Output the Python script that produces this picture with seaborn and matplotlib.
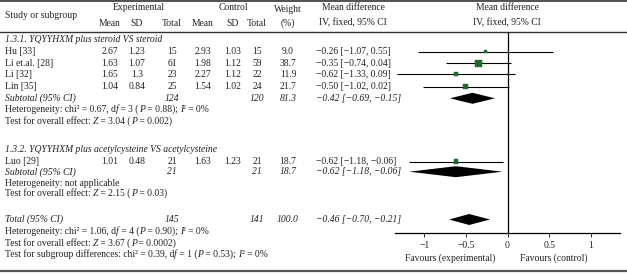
import matplotlib
matplotlib.use('Agg')
import matplotlib.pyplot as plt
import seaborn as sns
import pandas as pd

# study-level data
studies = ['Hu [33]', 'Li et.al. [28]', 'Li [32]', 'Lin [35]', 'Luo [29]']
exp_mean = ['2.67', '1.63', '1.65', '1.04', '1.01']
exp_sd = ['1.23', '1.07', '1.3', '0.84', '0.48']
exp_n = [15, 61, 23, 25, 21]
ctl_mean = ['2.93', '1.98', '2.27', '1.54', '1.63']
ctl_sd = ['1.03', '1.12', '1.12', '1.02', '1.23']
ctl_n = [15, 59, 22, 24, 21]
weight = [9.0, 38.7, 11.9, 21.7, 18.7]
md = [-0.26, -0.35, -0.62, -0.50, -0.62]
ci_lo = [-1.07, -0.74, -1.33, -1.02, -1.18]
ci_hi = [0.55, 0.04, 0.09, 0.02, -0.06]

# pooled rows: subgroup 1, subgroup 2, total
pooled_label = ['Subtotal (95% CI)', 'Subtotal (95% CI)', 'Total (95% CI)']
pooled_exp_n = [124, 21, 145]
pooled_ctl_n = [120, 21, 141]
pooled_weight = ['81.3', '18.7', '100.0']
pooled_md = [-0.42, -0.62, -0.46]
pooled_lo = [-0.69, -1.18, -0.70]
pooled_hi = [-0.15, -0.06, -0.21]

group_titles = ['1.3.1. YQYYHXM plus steroid VS steroid',
                '1.3.2. YQYYHXM plus acetylcysteine VS acetylcysteine']
# *...* marks italic parts
notes_1 = ['Heterogeneity: chi² = 0.67, d*f* = 3 (*P* = 0.88); *I*² = 0%',
           'Test for overall effect: *Z* = 3.04 (*P* = 0.002)']
notes_2 = ['Heterogeneity: not applicable',
           'Test for overall effect: *Z* = 2.15 (*P* = 0.03)']
notes_tot = ['Heterogeneity: chi² = 1.06, d*f* = 4 (*P* = 0.90); *I*² = 0%',
             'Test for overall effect: *Z* = 3.67 (*P* = 0.0002)',
             'Test for subgroup differences: chi² = 0.39, d*f* = 1 (*P* = 0.53); *I*² = 0%']
x_ticks = [-1, -0.5, 0, 0.5, 1]
x_tick_labels = ['\u22121', '\u22120.5', '0', '0.5', '1']

# layout (pixel rows / columns of the 627x274 canvas)
study_y = [51.7, 63.3, 74.3, 86.7, 161.7]
pooled_y = [98.3, 171.7, 219.5]
title_y = [40, 150]
notes_1_y = [110, 121.7]
notes_2_y = [183.3, 193.3]
notes_tot_y = [232, 243, 254]
col_x = {'em': 110, 'es': 137, 'en': 172, 'cm': 203, 'cs': 233, 'cn': 257, 'w': 288}
ci_x = 316

sns.set_theme(style='white')
plt.rcParams['font.family'] = ['Liberation Serif', 'DejaVu Serif']
FS = 6.9
TXT = '#222222'


def fmt(v):
    return f'{v:.2f}'.replace('-', '\u2212')


def ci_text(m, lo, hi):
    return f'{fmt(m)} [{fmt(lo)}, {fmt(hi)}]'


def rich_text(ax, x, y, s):
    # chain plain / italic pieces one after the other on the same baseline
    prev = None
    for k, part in enumerate(s.split('*')):
        if not part:
            continue
        style = 'italic' if k % 2 else 'normal'
        if prev is None:
            prev = ax.text(x, y, part, ha='left', va='center', style=style,
                           fontsize=FS, color=TXT)
        else:
            prev = ax.annotate(part, xy=(1, 0), xycoords=prev, ha='left', va='bottom',
                               style=style, fontsize=FS, color=TXT)


fig = plt.figure(figsize=(6.27, 2.74), dpi=100)
tx = fig.add_axes([0, 0, 1, 1])
tx.set_xlim(0, 627)
tx.set_ylim(274, 0)
tx.axis('off')

# header
kw = dict(fontsize=FS, va='center', color=TXT)
tx.text(5, 16, 'Study or subgroup', ha='left', **kw)
tx.text(139, 8, 'Experimental', ha='center', **kw)
tx.text(233, 8, 'Control', ha='center', **kw)
for key, lab in zip(['em', 'es', 'en', 'cm', 'cs', 'cn'], ['Mean', 'SD', 'Total'] * 2):
    tx.text(col_x[key], 24, lab, ha='center', **kw)
tx.text(col_x['w'], 9, 'Weight', ha='center', **kw)
tx.text(col_x['w'], 23, '(%)', ha='center', **kw)
for cx in [353, 507]:
    tx.text(cx, 8, 'Mean difference', ha='center', **kw)
    tx.text(cx, 23, 'IV, fixed, 95% CI', ha='center', **kw)

tx.axhline(1, color='#333333', lw=1.2)
tx.axhline(32, color='#333333', lw=1.0)
tx.axhline(271, color='#555555', lw=1.6)

# group titles and study rows
for t, y in zip(group_titles, title_y):
    tx.text(5, y, t, ha='left', style='italic', **kw)
for i, y in enumerate(study_y):
    tx.text(5, y, studies[i], ha='left', **kw)
    for key, val in zip(['em', 'es', 'en', 'cm', 'cs', 'cn'],
                        [exp_mean[i], exp_sd[i], exp_n[i], ctl_mean[i], ctl_sd[i], ctl_n[i]]):
        tx.text(col_x[key], y, str(val), ha='center', **kw)
    tx.text(col_x['w'], y, f'{weight[i]:.1f}', ha='center', **kw)
    tx.text(ci_x, y, ci_text(md[i], ci_lo[i], ci_hi[i]), ha='left', **kw)

for i, y in enumerate(pooled_y):
    tx.text(5, y, pooled_label[i], ha='left', style='italic', **kw)
    tx.text(col_x['en'], y, str(pooled_exp_n[i]), ha='center', style='italic', **kw)
    tx.text(col_x['cn'], y, str(pooled_ctl_n[i]), ha='center', style='italic', **kw)
    tx.text(col_x['w'], y, pooled_weight[i], ha='center', style='italic', **kw)
    tx.text(ci_x, y, ci_text(pooled_md[i], pooled_lo[i], pooled_hi[i]),
            ha='left', style='italic', **kw)

for notes, ys in [(notes_1, notes_1_y), (notes_2, notes_2_y), (notes_tot, notes_tot_y)]:
    for t, y in zip(notes, ys):
        rich_text(tx, 5, y, t)

tx.text(450, 258.5, 'Favours (experimental)', ha='center', **kw)
tx.text(554, 258.5, 'Favours (control)', ha='center', **kw)

# forest panel, y in the same pixel rows as the table
ax = fig.add_axes([395 / 627, (274 - 233) / 274, 225 / 627, (233 - 32) / 274])
ax.patch.set_alpha(0)
ax.set_xlim(-1.35, 1.35)
ax.set_ylim(233, 32)
ax.axvline(0, color='black', lw=0.9)
ax.hlines(study_y, ci_lo, ci_hi, color='black', lw=0.8)

df = pd.DataFrame({'md': md, 'y': study_y, 'w': weight})
sns.scatterplot(data=df, x='md', y='y', size='w', sizes=(0.6 * 9.0, 0.6 * 38.7),
                marker='s', color='#1d6b2c', edgecolor='#1d6b2c', linewidth=0.3,
                legend=False, ax=ax, zorder=3)

half_h = 5.5
for m, lo, hi, y in zip(pooled_md, pooled_lo, pooled_hi, pooled_y):
    ax.fill([lo, m, hi, m], [y, y - half_h, y, y + half_h], color='black', lw=0)

sns.despine(ax=ax, left=True, top=True, right=True)
ax.spines['bottom'].set_linewidth(0.9)
ax.spines['bottom'].set_color('black')
ax.set_yticks([])
ax.set_xticks(x_ticks)
ax.set_xticklabels(x_tick_labels, fontsize=FS, color=TXT)
ax.tick_params(axis='x', direction='out', length=3, width=0.7, pad=3, bottom=True)
ax.set_xlabel('')
ax.set_ylabel('')

fig.savefig('out.png', dpi=100)
